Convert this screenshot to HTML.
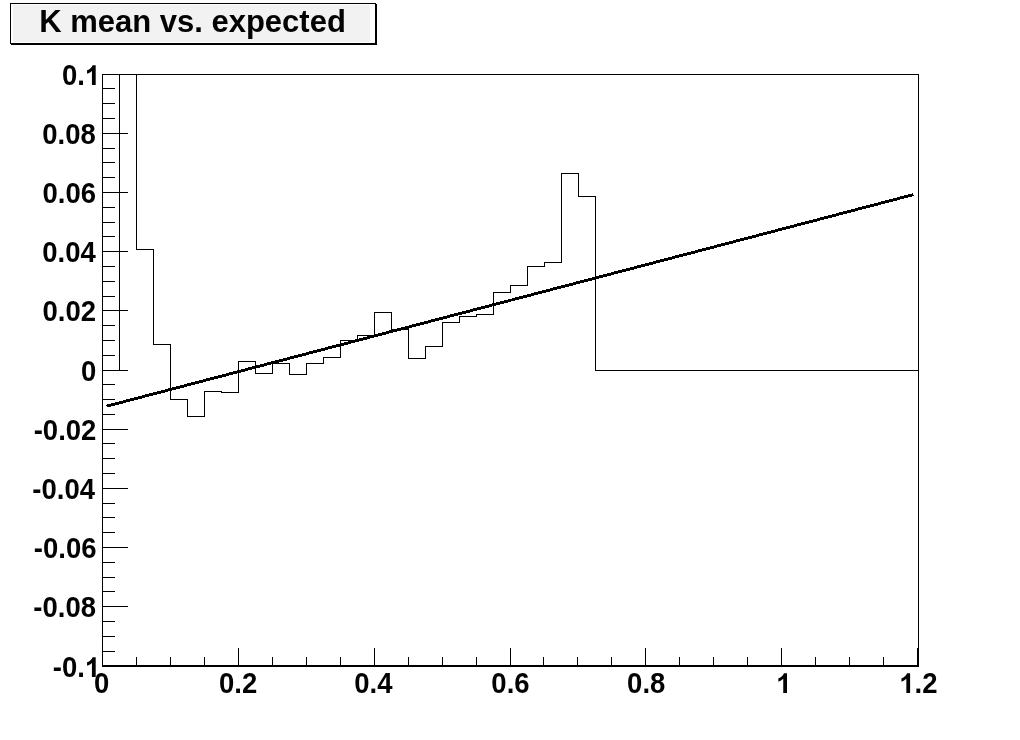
<!DOCTYPE html>
<html><head><meta charset="utf-8"><title>K mean vs. expected</title>
<style>
html,body{margin:0;padding:0;background:#fff;}
body{width:1020px;height:740px;overflow:hidden;position:relative;font-family:"Liberation Sans",sans-serif;}
svg{position:absolute;left:0;top:0;display:block;}
svg text{font-family:"Liberation Sans",sans-serif;font-weight:bold;fill:#000;}
</style></head><body>
<svg width="1020" height="740" viewBox="0 0 1020 740">
<rect x="0" y="0" width="1020" height="740" fill="#ffffff"/>
<!-- title box -->
<g shape-rendering="crispEdges">
<rect x="11" y="4" width="366" height="41" fill="#000"/>
<rect x="10" y="3" width="366" height="41" fill="#000"/>
<rect x="11" y="4" width="364" height="39" fill="#ffffff"/>
<rect x="13" y="5" width="357" height="37" fill="#f2f2f2"/>
</g>
<!-- frame, axes, ticks, histogram -->
<g shape-rendering="crispEdges" stroke="#000" stroke-width="1" fill="none">
<rect x="102.5" y="74.5" width="816" height="591"/>
<line x1="102" y1="666.5" x2="919" y2="666.5"/>
<line x1="102" y1="74.5" x2="128" y2="74.5"/>
<line x1="102" y1="88.5" x2="115" y2="88.5"/>
<line x1="102" y1="103.5" x2="115" y2="103.5"/>
<line x1="102" y1="118.5" x2="115" y2="118.5"/>
<line x1="102" y1="133.5" x2="128" y2="133.5"/>
<line x1="102" y1="148.5" x2="115" y2="148.5"/>
<line x1="102" y1="162.5" x2="115" y2="162.5"/>
<line x1="102" y1="177.5" x2="115" y2="177.5"/>
<line x1="102" y1="192.5" x2="128" y2="192.5"/>
<line x1="102" y1="207.5" x2="115" y2="207.5"/>
<line x1="102" y1="222.5" x2="115" y2="222.5"/>
<line x1="102" y1="236.5" x2="115" y2="236.5"/>
<line x1="102" y1="251.5" x2="128" y2="251.5"/>
<line x1="102" y1="266.5" x2="115" y2="266.5"/>
<line x1="102" y1="281.5" x2="115" y2="281.5"/>
<line x1="102" y1="296.5" x2="115" y2="296.5"/>
<line x1="102" y1="310.5" x2="128" y2="310.5"/>
<line x1="102" y1="325.5" x2="115" y2="325.5"/>
<line x1="102" y1="340.5" x2="115" y2="340.5"/>
<line x1="102" y1="355.5" x2="115" y2="355.5"/>
<line x1="102" y1="370.5" x2="128" y2="370.5"/>
<line x1="102" y1="384.5" x2="115" y2="384.5"/>
<line x1="102" y1="399.5" x2="115" y2="399.5"/>
<line x1="102" y1="414.5" x2="115" y2="414.5"/>
<line x1="102" y1="429.5" x2="128" y2="429.5"/>
<line x1="102" y1="443.5" x2="115" y2="443.5"/>
<line x1="102" y1="458.5" x2="115" y2="458.5"/>
<line x1="102" y1="473.5" x2="115" y2="473.5"/>
<line x1="102" y1="488.5" x2="128" y2="488.5"/>
<line x1="102" y1="503.5" x2="115" y2="503.5"/>
<line x1="102" y1="517.5" x2="115" y2="517.5"/>
<line x1="102" y1="532.5" x2="115" y2="532.5"/>
<line x1="102" y1="547.5" x2="128" y2="547.5"/>
<line x1="102" y1="562.5" x2="115" y2="562.5"/>
<line x1="102" y1="577.5" x2="115" y2="577.5"/>
<line x1="102" y1="591.5" x2="115" y2="591.5"/>
<line x1="102" y1="606.5" x2="128" y2="606.5"/>
<line x1="102" y1="621.5" x2="115" y2="621.5"/>
<line x1="102" y1="636.5" x2="115" y2="636.5"/>
<line x1="102" y1="651.5" x2="115" y2="651.5"/>
<line x1="102" y1="665.5" x2="128" y2="665.5"/>
<line x1="102.5" y1="667" x2="102.5" y2="648"/>
<line x1="136.5" y1="667" x2="136.5" y2="657"/>
<line x1="170.5" y1="667" x2="170.5" y2="657"/>
<line x1="204.5" y1="667" x2="204.5" y2="657"/>
<line x1="238.5" y1="667" x2="238.5" y2="648"/>
<line x1="272.5" y1="667" x2="272.5" y2="657"/>
<line x1="306.5" y1="667" x2="306.5" y2="657"/>
<line x1="340.5" y1="667" x2="340.5" y2="657"/>
<line x1="374.5" y1="667" x2="374.5" y2="648"/>
<line x1="408.5" y1="667" x2="408.5" y2="657"/>
<line x1="442.5" y1="667" x2="442.5" y2="657"/>
<line x1="476.5" y1="667" x2="476.5" y2="657"/>
<line x1="510.5" y1="667" x2="510.5" y2="648"/>
<line x1="543.5" y1="667" x2="543.5" y2="657"/>
<line x1="577.5" y1="667" x2="577.5" y2="657"/>
<line x1="611.5" y1="667" x2="611.5" y2="657"/>
<line x1="645.5" y1="667" x2="645.5" y2="648"/>
<line x1="679.5" y1="667" x2="679.5" y2="657"/>
<line x1="713.5" y1="667" x2="713.5" y2="657"/>
<line x1="747.5" y1="667" x2="747.5" y2="657"/>
<line x1="781.5" y1="667" x2="781.5" y2="648"/>
<line x1="815.5" y1="667" x2="815.5" y2="657"/>
<line x1="849.5" y1="667" x2="849.5" y2="657"/>
<line x1="883.5" y1="667" x2="883.5" y2="657"/>
<line x1="917.5" y1="667" x2="917.5" y2="648"/>
<polyline points="102.5,370.5 119.5,370.5 119.5,74.5 136.5,74.5 136.5,249.5 153.5,249.5 153.5,344.5 170.5,344.5 170.5,399.5 187.5,399.5 187.5,416.5 204.5,416.5 204.5,391.5 221.5,391.5 221.5,392.5 238.5,392.5 238.5,361.5 255.5,361.5 255.5,373.5 272.5,373.5 272.5,363.5 289.5,363.5 289.5,374.5 306.5,374.5 306.5,363.5 323.5,363.5 323.5,357.5 340.5,357.5 340.5,340.5 357.5,340.5 357.5,335.5 374.5,335.5 374.5,312.5 391.5,312.5 391.5,329.5 408.5,329.5 408.5,358.5 425.5,358.5 425.5,346.5 442.5,346.5 442.5,322.5 459.5,322.5 459.5,316.5 476.5,316.5 476.5,314.5 493.5,314.5 493.5,292.5 510.5,292.5 510.5,285.5 527.5,285.5 527.5,266.5 544.5,266.5 544.5,262.5 561.5,262.5 561.5,173.5 578.5,173.5 578.5,196.5 595.5,196.5 595.5,370.5 918.5,370.5"/>
</g>
<!-- fit line -->
<line x1="106.6" y1="406.2" x2="913.4" y2="194.6" stroke="#000" stroke-width="2.9" shape-rendering="crispEdges"/>
<!-- axis labels -->
<g fill="#000" opacity="0.995">
<text x="192.5" y="32" text-anchor="middle" font-size="31">K mean vs. expected</text>
<text transform="translate(52.78,677.10) scale(1,1.045)" font-size="27.5">-0.</text>
<path transform="translate(84.88,677.10) scale(0.013428,-0.013428)" d="M806 0H525V1059Q371 915 162 846V1101Q272 1137 401 1237.5Q530 1338 578 1472H806Z"/>
<text transform="translate(33.37,616.70) scale(1,1.045)" font-size="27.5">-0.08</text>
<text transform="translate(33.81,557.50) scale(1,1.045)" font-size="27.5">-0.06</text>
<text transform="translate(32.37,498.50) scale(1,1.045)" font-size="27.5">-0.04</text>
<text transform="translate(33.72,440.30) scale(1,1.045)" font-size="27.5">-0.02</text>
<text transform="translate(81.03,380.70) scale(1,1.045)" font-size="27.5">0</text>
<text transform="translate(42.48,321.10) scale(1,1.045)" font-size="27.5">0.02</text>
<text transform="translate(42.22,261.80) scale(1,1.045)" font-size="27.5">0.04</text>
<text transform="translate(42.47,202.70) scale(1,1.045)" font-size="27.5">0.06</text>
<text transform="translate(42.22,144.30) scale(1,1.045)" font-size="27.5">0.08</text>
<text transform="translate(61.94,85.10) scale(1,1.045)" font-size="27.5">0.</text>
<path transform="translate(84.88,85.10) scale(0.013428,-0.013428)" d="M806 0H525V1059Q371 915 162 846V1101Q272 1137 401 1237.5Q530 1338 578 1472H806Z"/>
<text transform="translate(94.07,693.00) scale(1,1.045)" font-size="27.5">0</text>
<text transform="translate(219.03,693.00) scale(1,1.045)" font-size="27.5">0.2</text>
<text transform="translate(354.30,693.00) scale(1,1.045)" font-size="27.5">0.4</text>
<text transform="translate(491.36,693.00) scale(1,1.045)" font-size="27.5">0.6</text>
<text transform="translate(627.12,693.00) scale(1,1.045)" font-size="27.5">0.8</text>
<path transform="translate(776.20,693.00) scale(0.013428,-0.013428)" d="M806 0H525V1059Q371 915 162 846V1101Q272 1137 401 1237.5Q530 1338 578 1472H806Z"/>
<path transform="translate(899.29,693.00) scale(0.013428,-0.013428)" d="M806 0H525V1059Q371 915 162 846V1101Q272 1137 401 1237.5Q530 1338 578 1472H806Z"/>
<text transform="translate(914.58,693.00) scale(1,1.045)" font-size="27.5">.2</text>
</g>
</svg>
</body></html>
